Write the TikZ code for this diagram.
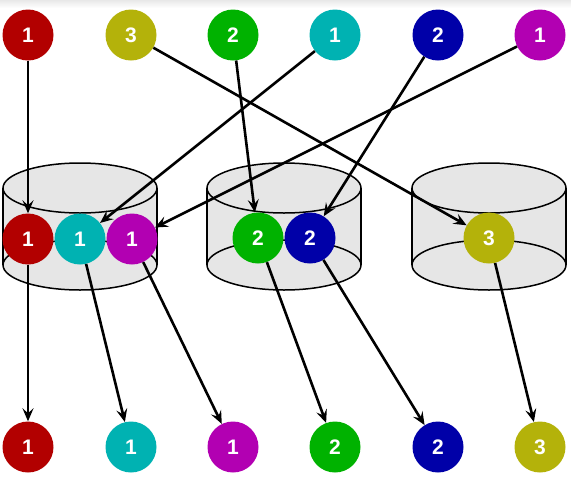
\documentclass[tikz,border=0pt]{standalone}
\usepackage{fontspec}
\setmainfont{Liberation Sans}
\usetikzlibrary{arrows.meta}
\definecolor{cred}{RGB}{178,0,0}
\definecolor{colive}{RGB}{180,178,10}
\definecolor{cgreen}{RGB}{0,178,0}
\definecolor{ccyan}{RGB}{0,178,178}
\definecolor{cblue}{RGB}{0,0,168}
\definecolor{cmag}{RGB}{178,0,178}
\definecolor{cylfill}{RGB}{230,230,230}
\tikzset{
  ball/.style={circle, fill=#1, minimum size=51pt, inner sep=0pt, text=white,
    font=\fontsize{21}{21}\selectfont\bfseries},
  flow/.style={-{Stealth[length=13pt,width=11pt,inset=5pt]}, line width=2.6pt, black},
  cyl/.style={draw=black, line width=1.5pt, fill=cylfill}
}
\newcommand{\mycyl}[1]{%
  \fill[cylfill] (#1-77,188) rectangle (#1+77,265);
  \fill[cylfill] (#1,265) ellipse [x radius=77, y radius=25];
  \draw[line width=1.5pt] (#1,265) ellipse [x radius=77, y radius=25];
  \draw[line width=1.5pt] (#1-77,188) -- (#1-77,265) (#1+77,188) -- (#1+77,265);
  \draw[cyl] (#1,188) ellipse [x radius=77, y radius=25];
}
\begin{document}
\begin{tikzpicture}[x=1pt,y=-1pt]
\useasboundingbox (0,0) rectangle (571,480);
\shade[top color=gray!18, bottom color=white] (0,0) rectangle (571,8);
\mycyl{80}
\mycyl{284}
\mycyl{489}
% top row
\node[ball=cred]   (t1) at (28,35)  {1};
\node[ball=colive] (t2) at (131,35) {3};
\node[ball=cgreen] (t3) at (233,35) {2};
\node[ball=ccyan]  (t4) at (335,35) {1};
\node[ball=cblue]  (t5) at (438,35) {2};
\node[ball=cmag]   (t6) at (540,35) {1};
% middle
\node[ball=cred]   (m1) at (28,239)  {1};
\node[ball=ccyan]  (m2) at (80,239)  {1};
\node[ball=cmag]   (m3) at (132,239) {1};
\node[ball=cgreen] (m4) at (258,238) {2};
\node[ball=cblue]  (m5) at (310,238) {2};
\node[ball=colive] (m6) at (489,238) {3};
% bottom
\node[ball=cred]   (b1) at (28,447)  {1};
\node[ball=ccyan]  (b2) at (131,447) {1};
\node[ball=cmag]   (b3) at (233,447) {1};
\node[ball=cgreen] (b4) at (335,447) {2};
\node[ball=cblue]  (b5) at (438,447) {2};
\node[ball=colive] (b6) at (540,447) {3};
% arrows
\draw[flow] (t1) -- (m1);
\draw[flow] (t2) -- (m6);
\draw[flow] (t3) -- (m4);
\draw[flow] (t4) -- (m2);
\draw[flow] (t5) -- (m5);
\draw[flow] (t6) -- (m3);
\draw[flow] (m1) -- (b1);
\draw[flow] (m2) -- (b2);
\draw[flow] (m3) -- (b3);
\draw[flow] (m4) -- (b4);
\draw[flow] (m5) -- (b5);
\draw[flow] (m6) -- (b6);
\end{tikzpicture}
\end{document}
